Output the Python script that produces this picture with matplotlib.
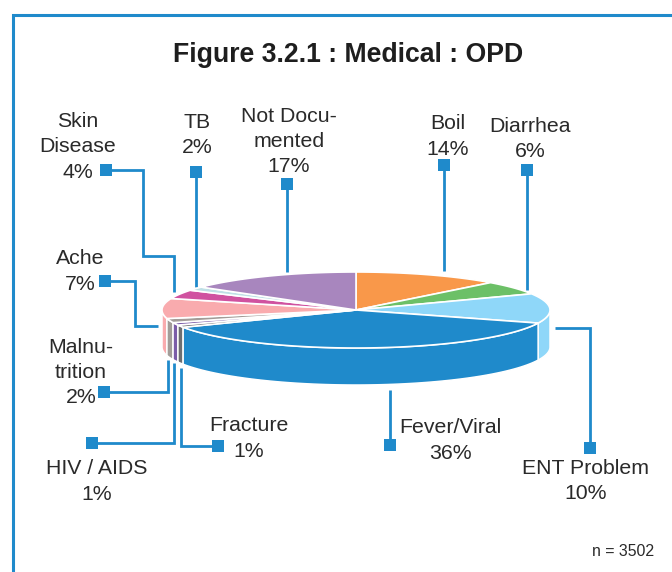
import numpy as np
import matplotlib
matplotlib.use("Agg")
import matplotlib.pyplot as plt
from matplotlib.patches import Polygon

plt.rcParams['font.family'] = ['Liberation Sans', 'DejaVu Sans']

# Slices clockwise from 12 o'clock
categories = ["Boil", "Diarrhea", "ENT Problem", "Fever/Viral", "Fracture", "HIV / AIDS",
              "Malnutrition", "Ache", "Skin Disease", "TB", "Not Documented"]
labelled_pct = [14, 6, 10, 36, 1, 1, 2, 7, 4, 2, 17]
# Share of the ellipse each slice occupies as drawn in the picture
drawn_share = [12.2, 5.8, 12.6, 36.9, 1.0, 1.1, 1.8, 8.5, 3.8, 1.6, 14.7]
colors = ["#F9984A", "#6CC067", "#8FD7F9", "#1F8ACB", "#6D6E70", "#7B5CA8",
          "#A29C98", "#F9ABAE", "#D052A0", "#BFE0E6", "#A886BE"]

label_text = ["Boil", "Diarrhea", "ENT Problem", "Fever/Viral", "Fracture", "HIV / AIDS",
              "Malnu-\ntrition", "Ache", "Skin\nDisease", "TB", "Not Docu-\nmented"]
label_xy = [(448, 136.5), (530, 139), (586, 481), (450, 440.5), (249, 438.5), (97, 481.5),
            (81, 372.5), (80, 271.5), (78, 147), (197, 135), (289, 141.5)]
leaders = [
    [(444, 165), (444, 271)],
    [(527, 170), (527, 290)],
    [(590, 448), (590, 328), (555, 328)],
    [(390, 445), (390, 390)],
    [(218, 446), (181, 446), (181, 368)],
    [(92, 443), (174, 443), (174, 363)],
    [(104, 392), (168, 392), (168, 360)],
    [(105, 281), (135, 281), (135, 326), (158, 326)],
    [(106, 170), (143, 170), (143, 256), (174, 256), (174, 292)],
    [(196, 172), (196, 287)],
    [(287, 184), (287, 272)],
]

BLUE = "#1F8ACB"
TEXT = "#2A2A2A"
cx, cy, rx, ry, depth = 356, 310, 194, 38, 37

fig = plt.figure(figsize=(6.72, 5.72), dpi=100)
ax = fig.add_axes([0, 0, 1, 1])
ax.set_xlim(0, 672)
ax.set_ylim(572, 0)
ax.axis("off")

# Panel frame, open on the right and at the bottom
ax.plot([13, 13, 672], [572, 15, 15], color=BLUE, lw=2.2, solid_joinstyle="miter")

ax.text(348.5, 55, "Figure 3.2.1 : Medical : OPD", ha="center", va="center",
        fontsize=19.2, fontweight="bold", color="#1E1E1E")
ax.text(654, 551, "n = 3502", ha="right", va="center", fontsize=11.4, color=TEXT)


def arc(a, b, n=80):
    t = np.radians(np.linspace(a, b, n))
    return cx + rx * np.sin(t), cy - ry * np.cos(t)


edges = np.cumsum([0] + drawn_share) / sum(drawn_share) * 360

# Side walls: only the part of each slice on the front half (90..270 deg)
side_order = sorted(range(len(categories)), key=lambda i: -abs(180 - (edges[i] + edges[i + 1]) / 2))
for i in side_order:
    a, b = max(edges[i], 90), min(edges[i + 1], 270)
    if b <= a:
        continue
    x, y = arc(a, b)
    pts = np.r_[np.c_[x, y], np.c_[x[::-1], y[::-1] + depth]]
    ax.add_patch(Polygon(pts, closed=True, facecolor=colors[i], edgecolor="white", lw=1.1, zorder=2))

# Top faces
for i in range(len(categories)):
    x, y = arc(edges[i], edges[i + 1])
    pts = np.r_[[[cx, cy]], np.c_[x, y]]
    ax.add_patch(Polygon(pts, closed=True, facecolor=colors[i], edgecolor="white", lw=1.2, zorder=3))

# Leader lines and square end markers
for path in leaders:
    xs, ys = zip(*path)
    ax.plot(xs, ys, color=BLUE, lw=2.0, solid_joinstyle="miter", solid_capstyle="butt", zorder=1)
    ax.plot(xs[0], ys[0], marker="s", ms=8, color=BLUE, mew=0, zorder=4)

# Labels
for txt, pct, (x, y) in zip(label_text, labelled_pct, label_xy):
    ax.text(x, y, f"{txt}\n{pct}%", ha="center", va="center", fontsize=15.3,
            color=TEXT, linespacing=1.42)

fig.savefig("out.png", dpi=100)
